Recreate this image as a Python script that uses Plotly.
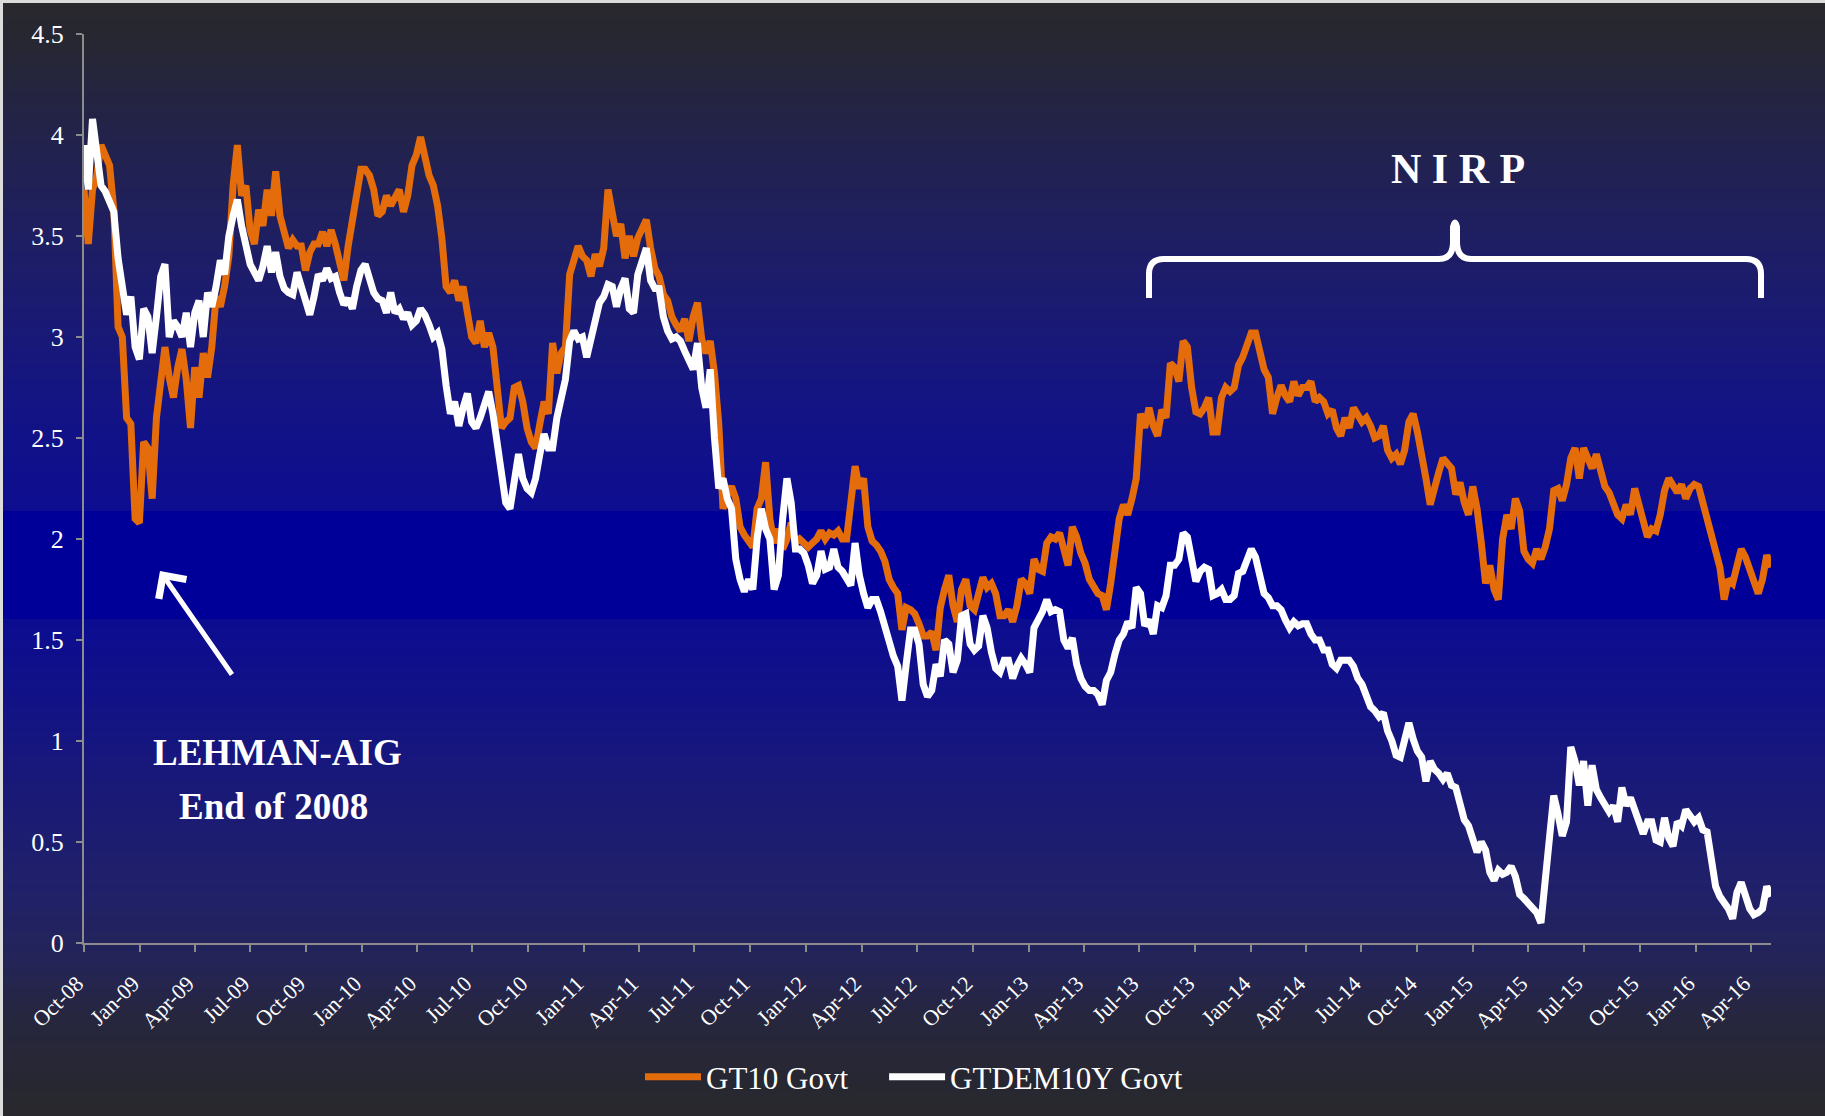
import plotly.graph_objects as go
import pandas as pd

# Rendite 10J Staatsanleihen, Wochenwerte ab 01.10.2008
start_datum = "2008-10-01"

gt10 = [
    3.73, 3.46, 3.73, 3.8, 3.95, 3.9, 3.85, 3.63, 3.05, 3.0,
    2.6, 2.57, 2.10, 2.08, 2.48, 2.45, 2.2, 2.6, 2.75, 2.95,
    2.8, 2.7, 2.85, 2.94, 2.79, 2.55, 2.85, 2.70, 2.92, 2.8,
    2.95, 3.2, 3.15, 3.25, 3.4, 3.75, 3.95, 3.7, 3.75, 3.53,
    3.46, 3.63, 3.55, 3.73, 3.6, 3.82, 3.6, 3.5, 3.44, 3.48,
    3.45, 3.45, 3.33, 3.42, 3.46, 3.46, 3.52, 3.45, 3.53, 3.46,
    3.36, 3.28, 3.45, 3.58, 3.73, 3.83, 3.83, 3.80, 3.73, 3.6,
    3.62, 3.70, 3.65, 3.7, 3.73, 3.62, 3.7, 3.85, 3.9, 3.99,
    3.88, 3.80, 3.75, 3.65, 3.49, 3.25, 3.22, 3.28, 3.18, 3.25,
    3.12, 3.0, 2.97, 3.08, 2.95, 3.02, 2.95, 2.72, 2.55, 2.58,
    2.60,
    2.75, 2.76, 2.68, 2.55, 2.48, 2.45, 2.57, 2.68, 2.62, 2.97,
    2.82, 2.92, 2.95, 3.31, 3.38, 3.45, 3.4, 3.38, 3.3, 3.41,
    3.35, 3.44, 3.73, 3.63, 3.5, 3.56, 3.39, 3.5, 3.4, 3.49,
    3.53, 3.58, 3.44, 3.34, 3.3, 3.21, 3.18, 3.1, 3.06, 3.03,
    3.09, 2.98, 3.1, 3.17, 2.99, 2.92, 2.98, 2.82, 2.57, 2.15,
    2.22, 2.26, 2.2, 2.06, 2.02, 1.99, 1.96, 2.15, 2.2, 2.38,
    2.1, 1.98, 2.05, 1.95, 2.0, 2.08, 1.98, 2.0, 1.98, 1.96,
    1.98, 2.0, 2.04, 2.0, 2.03, 2.02, 2.04, 2.0, 2.0, 2.22,
    2.36, 2.25, 2.3, 2.06, 1.99, 1.97, 1.94, 1.89, 1.8, 1.76,
    1.73, 1.55, 1.66, 1.65, 1.63, 1.58, 1.52, 1.52, 1.54, 1.45,
    1.66,
    1.75, 1.82, 1.67, 1.59, 1.75, 1.8, 1.67, 1.65, 1.73, 1.81,
    1.76, 1.78, 1.73, 1.62, 1.62, 1.65, 1.59, 1.67, 1.8, 1.78,
    1.73, 1.9, 1.85, 1.84, 1.98, 2.01, 2.0, 2.03, 1.95, 1.87,
    2.06, 2.01, 1.93, 1.88, 1.8, 1.76, 1.73, 1.72, 1.65, 1.78,
    1.97, 2.1, 2.17, 2.12, 2.2, 2.3, 2.62, 2.55, 2.65, 2.56,
    2.51, 2.64, 2.6, 2.87, 2.85, 2.78, 2.98, 2.95, 2.75, 2.63,
    2.62, 2.65, 2.7, 2.53, 2.53, 2.7, 2.75, 2.73, 2.75, 2.86,
    2.9, 2.95, 3.02, 3.02, 2.93, 2.84, 2.8, 2.62, 2.7, 2.76,
    2.71, 2.68, 2.78, 2.71, 2.75, 2.75, 2.78, 2.68, 2.7, 2.68,
    2.62, 2.64, 2.55, 2.51, 2.6, 2.55, 2.65, 2.62, 2.58, 2.6,
    2.56, 2.5, 2.51, 2.56, 2.44, 2.4, 2.42, 2.37, 2.44, 2.58,
    2.62, 2.53, 2.43, 2.3, 2.17, 2.27, 2.33, 2.4, 2.37, 2.35,
    2.22, 2.28, 2.18, 2.12, 2.26, 2.15, 1.98, 1.78, 1.87, 1.75,
    1.7, 2.0, 2.12, 2.05, 2.2, 2.14, 1.94, 1.9, 1.88, 1.95,
    1.9, 1.96, 2.05, 2.24, 2.25, 2.19, 2.27, 2.4, 2.45, 2.3,
    2.45, 2.4, 2.35, 2.42, 2.34, 2.26, 2.23, 2.17, 2.12, 2.1,
    2.17, 2.12, 2.25, 2.17, 2.07, 2.01, 2.05, 2.04, 2.12, 2.24,
    2.3, 2.26, 2.23, 2.27, 2.2, 2.25, 2.27, 2.26, 2.18, 2.12,
    2.03, 1.97, 1.86, 1.7, 1.8, 1.78, 1.85, 1.95, 1.91, 1.85,
    1.78, 1.73, 1.8, 1.92, 1.86,
]

gtdem10y = [
    3.95, 3.73, 4.08, 3.93, 3.75, 3.72, 3.66, 3.62, 3.39, 3.24,
    3.11, 3.2, 2.95, 2.89, 3.14, 3.1, 2.92, 3.1, 3.3, 3.36,
    3.0, 3.08, 3.05, 3.0, 3.12, 2.95, 3.12, 3.18, 3.0, 3.22,
    3.15, 3.25, 3.38, 3.31, 3.5, 3.6, 3.68, 3.55, 3.45, 3.36,
    3.32, 3.28, 3.35, 3.45, 3.32, 3.42, 3.3, 3.24, 3.22, 3.21,
    3.32, 3.25, 3.18, 3.11, 3.2, 3.31, 3.28, 3.34, 3.29, 3.3,
    3.22, 3.16, 3.19, 3.14, 3.25, 3.33, 3.36, 3.3, 3.22, 3.19,
    3.18, 3.12, 3.22, 3.12, 3.14, 3.09, 3.12, 3.06, 3.08, 3.14,
    3.11, 3.06, 3.0, 3.02, 2.94, 2.76, 2.62, 2.68, 2.56, 2.65,
    2.72, 2.58, 2.55, 2.6, 2.66, 2.73, 2.62, 2.45, 2.32, 2.18,
    2.15,
    2.32, 2.42, 2.3, 2.25, 2.23, 2.3, 2.42, 2.52, 2.45, 2.45,
    2.6, 2.7, 2.79, 2.98, 3.03, 2.99, 3.0, 2.9, 2.98, 3.09,
    3.17, 3.2, 3.26, 3.25, 3.15, 3.24, 3.29, 3.14, 3.12, 3.31,
    3.39, 3.44, 3.28, 3.24, 3.24, 3.1, 3.03, 2.99, 3.0, 2.98,
    2.93, 2.89, 2.84, 2.97, 2.75, 2.65, 2.84, 2.5, 2.25, 2.3,
    2.2, 2.15, 1.9, 1.8, 1.74, 1.8, 1.75, 2.0, 2.15, 2.05,
    2.0, 1.75, 1.82, 2.1, 2.3, 2.18, 1.95, 1.95, 1.93, 1.87,
    1.78, 1.82, 1.94, 1.85, 1.86, 1.95, 1.86, 1.84, 1.81, 1.77,
    1.98, 1.82, 1.73, 1.66, 1.7, 1.7, 1.64, 1.56, 1.49, 1.42,
    1.37, 1.2, 1.38, 1.55, 1.55, 1.48, 1.28, 1.22, 1.25, 1.38,
    1.32,
    1.5, 1.48, 1.34, 1.4, 1.62, 1.63, 1.48, 1.45, 1.47, 1.62,
    1.56, 1.44, 1.36, 1.34, 1.4, 1.4, 1.31, 1.37, 1.41, 1.38,
    1.34, 1.56, 1.6, 1.64, 1.7, 1.64, 1.65, 1.64, 1.5, 1.46,
    1.51, 1.38, 1.31, 1.27, 1.25, 1.25, 1.23, 1.18, 1.3, 1.34,
    1.43, 1.5, 1.53, 1.59, 1.56, 1.76, 1.73, 1.57, 1.6, 1.53,
    1.67, 1.66, 1.72, 1.87, 1.87, 1.9, 2.03, 2.01, 1.9, 1.79,
    1.84, 1.86, 1.85, 1.72, 1.73, 1.75, 1.7, 1.7, 1.72, 1.83,
    1.84, 1.9, 1.95, 1.91, 1.8, 1.73, 1.71, 1.67, 1.67, 1.65,
    1.6, 1.56, 1.59, 1.57, 1.58, 1.58, 1.53, 1.5, 1.5, 1.45,
    1.45, 1.38, 1.36, 1.4, 1.4, 1.4, 1.37, 1.31, 1.28, 1.22,
    1.17, 1.15, 1.12, 1.14, 1.05, 1.0, 0.93, 0.92, 1.02, 1.09,
    1.01, 0.95, 0.92, 0.8, 0.9, 0.86, 0.84, 0.81, 0.84, 0.78,
    0.77, 0.7, 0.61, 0.58, 0.51, 0.45, 0.5, 0.46, 0.35, 0.31,
    0.36, 0.34, 0.35, 0.38, 0.33, 0.24, 0.22, 0.2, 0.18, 0.15,
    0.1, 0.3, 0.58, 0.73, 0.64, 0.53, 0.6, 0.97, 0.9, 0.78,
    0.9, 0.68, 0.88, 0.76, 0.72, 0.68, 0.65, 0.68, 0.6, 0.77,
    0.68, 0.72, 0.66, 0.59, 0.54, 0.6, 0.6, 0.51, 0.5, 0.62,
    0.52, 0.48, 0.6, 0.58, 0.66, 0.63, 0.6, 0.62, 0.56, 0.55,
    0.42, 0.28, 0.23, 0.2, 0.17, 0.12, 0.25, 0.3, 0.23, 0.17,
    0.14, 0.15, 0.17, 0.28, 0.23,
]

tick_daten = [
    "2008-10-01", "2009-01-01", "2009-04-01", "2009-07-01", "2009-10-01",
    "2010-01-01", "2010-04-01", "2010-07-01", "2010-10-01", "2011-01-01",
    "2011-04-01", "2011-07-01", "2011-10-01", "2012-01-01", "2012-04-01",
    "2012-07-01", "2012-10-01", "2013-01-01", "2013-04-01", "2013-07-01",
    "2013-10-01", "2014-01-01", "2014-04-01", "2014-07-01", "2014-10-01",
    "2015-01-01", "2015-04-01", "2015-07-01", "2015-10-01", "2016-01-01",
    "2016-04-01",
]
tick_text = [
    "Oct-08", "Jan-09", "Apr-09", "Jul-09", "Oct-09", "Jan-10", "Apr-10",
    "Jul-10", "Oct-10", "Jan-11", "Apr-11", "Jul-11", "Oct-11", "Jan-12",
    "Apr-12", "Jul-12", "Oct-12", "Jan-13", "Apr-13", "Jul-13", "Oct-13",
    "Jan-14", "Apr-14", "Jul-14", "Oct-14", "Jan-15", "Apr-15", "Jul-15",
    "Oct-15", "Jan-16", "Apr-16",
]

daten = pd.date_range(start_datum, periods=len(gt10), freq="7D")

W, H = 1825, 1116
L, R, T, B = 84, 54, 34, 173
PW, PH = W - L - R, H - T - B
FONT = "Liberation Serif"
NBSP = "\u00a0"


def paper(x, y):
    """Pixel (von oben links) -> Paper-Koordinaten"""
    return (x - L) / PW, (H - B - y) / PH


# Hintergrund-Verlauf (grau -> blau -> grau)
stops = [
    (0, (40, 40, 44)), (40, (39, 39, 50)), (100, (36, 36, 66)),
    (200, (32, 32, 90)), (300, (27, 27, 112)), (400, (20, 20, 132)),
    (511, (13, 13, 145)), (621, (12, 12, 145)), (700, (18, 18, 134)),
    (800, (26, 26, 118)), (900, (33, 33, 104)), (960, (36, 36, 88)),
    (1020, (38, 38, 62)), (1116, (40, 40, 44)),
]
band = (0, 0, 152)


def farbe_bei(py):
    if 511 <= py < 621:
        return "rgb(%d,%d,%d)" % band
    for (y0, c0), (y1, c1) in zip(stops[:-1], stops[1:]):
        if y0 <= py <= y1:
            t = (py - y0) / (y1 - y0)
            return "rgb(%d,%d,%d)" % tuple(round(a + (b - a) * t) for a, b in zip(c0, c1))
    return "rgb(40,40,44)"


shapes = []
xa, _ = paper(3, 0)
xb, _ = paper(W + 10, 0)
for py in range(3, H, 4):
    _, ya = paper(0, py)
    _, yb = paper(0, py + 4)
    shapes.append(dict(
        type="rect", xref="paper", yref="paper", x0=xa, x1=xb, y0=yb, y1=ya,
        fillcolor=farbe_bei(py + 2), line_width=0, layer="below",
    ))

# geschweifte Klammer ueber NIRP-Phase
klammer = [
    ("M", (1149, 298)), ("L", (1149, 274)), ("Q", (1149, 259), (1164, 259)),
    ("L", (1439, 259)), ("Q", (1453, 259), (1453, 242)), ("L", (1453, 227)),
    ("Q", (1455, 218), (1457, 227)), ("L", (1457, 242)),
    ("Q", (1457, 259), (1471, 259)), ("L", (1746, 259)),
    ("Q", (1761, 259), (1761, 274)), ("L", (1761, 298)),
]
pfad = ""
for cmd, *pts in klammer:
    pfad += cmd + " ".join("%.5f,%.5f" % paper(*p) for p in pts) + " "
shapes.append(dict(
    type="path", xref="paper", yref="paper", path=pfad.strip(),
    line=dict(color="white", width=6), fillcolor="rgba(0,0,0,0)",
))

fig = go.Figure()
fig.add_trace(go.Scatter(
    x=daten, y=gt10, mode="lines", name="GT10 Govt" + NBSP * 4,
    line=dict(color="#e46c0a", width=7),
))
fig.add_trace(go.Scatter(
    x=daten, y=gtdem10y, mode="lines", name="GTDEM10Y Govt",
    line=dict(color="#ffffff", width=7),
))

nx, ny = paper(1458, 169)
lx1, ly1 = paper(277, 752)
lx2, ly2 = paper(273, 806)
ax_, ay_ = paper(160, 571)
legx, legy = paper(914, 1077)

text_anno = dict(xref="paper", yref="paper", showarrow=False,
                 xanchor="center", yanchor="middle")

fig.update_layout(
    width=W, height=H,
    margin=dict(l=L, r=R, t=T, b=B),
    paper_bgcolor="#dcdcdc",
    plot_bgcolor="rgba(0,0,0,0)",
    font=dict(family=FONT, color="white", size=22),
    shapes=shapes,
    showlegend=True,
    legend=dict(
        orientation="h", x=legx, y=legy, xanchor="center", yanchor="middle",
        font=dict(size=31, color="white"), bgcolor="rgba(0,0,0,0)",
        itemwidth=56,
    ),
    xaxis=dict(
        type="date", range=["2008-10-01", "2016-05-04"],
        tickvals=tick_daten, ticktext=tick_text, tickangle=-45,
        showline=True, linecolor="#8c8c8c", linewidth=2,
        ticks="outside", ticklen=7, tickwidth=2, tickcolor="#8c8c8c",
        showgrid=False, zeroline=False, tickfont=dict(size=22),
        ticklabelstandoff=10, ticklabelshift=-7,
    ),
    yaxis=dict(
        range=[0, 4.5], dtick=0.5, tick0=0,
        showline=True, linecolor="#8c8c8c", linewidth=2,
        ticks="outside", ticklen=6, tickwidth=2, tickcolor="#8c8c8c",
        showgrid=False, zeroline=False, tickfont=dict(size=26),
        ticklabelstandoff=7,
    ),
    annotations=[
        dict(text_anno, x=nx, y=ny, text="<b>N I R P</b>",
             font=dict(size=42, color="white")),
        dict(text_anno, x=lx1, y=ly1, text="<b>LEHMAN-AIG</b>",
             font=dict(size=37, color="white")),
        dict(text_anno, x=lx2, y=ly2, text="<b>End of 2008</b>",
             font=dict(size=37, color="white")),
        dict(xref="paper", yref="paper", x=ax_, y=ay_, text="",
             showarrow=True, ax=73, ay=105, arrowhead=4, arrowsize=1.3,
             arrowwidth=5, arrowcolor="white", standoff=0),
    ],
)

fig.write_html("out.html", config={"displayModeBar": False},
               post_script="document.body.style.margin='0';")
